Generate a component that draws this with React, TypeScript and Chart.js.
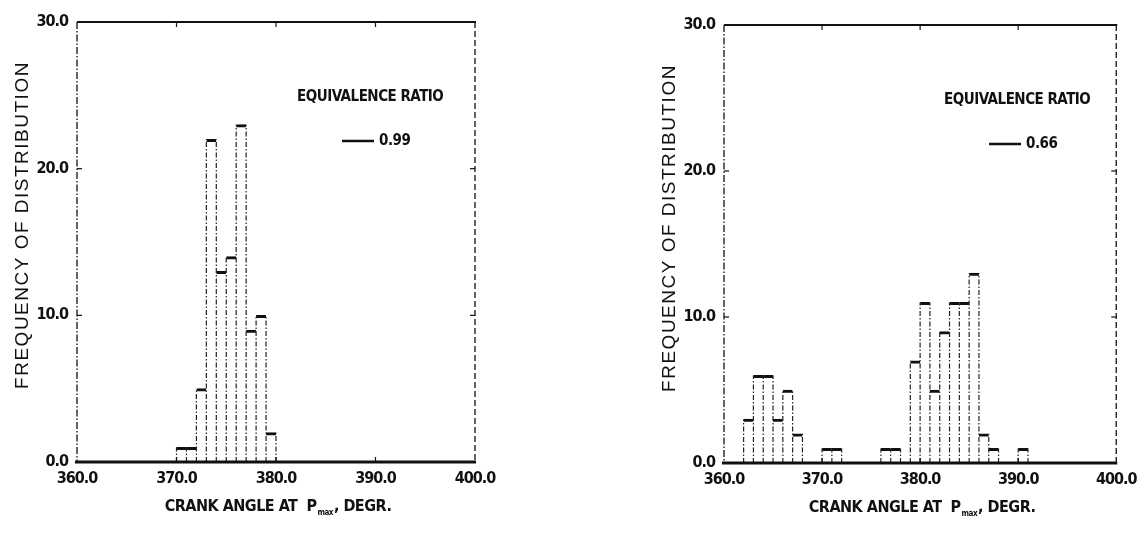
import React, { useEffect, useRef } from "react";
import { Chart, registerables } from "chart.js";
Chart.register(...registerables);

// ---- data ----
const xTickValues = [360, 370, 380, 390, 400];
const yTickValues = [0, 10, 20, 30];

const leftBins = [370, 371, 372, 373, 374, 375, 376, 377, 378, 379];
const leftFreq = [1, 1, 5, 22, 13, 14, 23, 9, 10, 2];
const leftRatio = "0.99";

const rightBins = [362, 363, 364, 365, 366, 367, 370, 371, 376, 377, 379, 380, 381, 382, 383, 384, 385, 386, 387, 390];
const rightFreq = [3, 6, 6, 3, 5, 2, 1, 1, 1, 1, 7, 11, 5, 9, 11, 11, 13, 2, 1, 1];
const rightRatio = "0.66";

const legendTitle = "EQUIVALENCE RATIO";
const yTitle = "FREQUENCY OF DISTRIBUTION";
const xTitleMain = "CRANK ANGLE AT  P";
const xTitleSub = "max";
const xTitleEnd = ", DEGR.";

const FONT_NARROW = '"Liberation Sans Narrow", "DejaVu Sans Condensed", "Liberation Sans", Arial, sans-serif';
const FONT_WIDE = '"Liberation Sans", Arial, sans-serif';
const INK = "#111";

type Geom = {
  w: number; h: number;
  left: number; right: number; top: number; bottom: number;
  yTitleX: number; yTitleY: number; xTitleY: number;
};

function edgePoints(bins: number[], freq: number[]) {
  const m = new Map<number, number>();
  bins.forEach((b, i) => {
    const f = freq[i];
    m.set(b, Math.max(m.get(b) ?? 0, f));
    m.set(b + 1, Math.max(m.get(b + 1) ?? 0, f));
  });
  const pts: any[] = [];
  [...m.keys()].sort((a, b) => a - b).forEach((e) => {
    pts.push({ x: e, y: 0 }, { x: e, y: m.get(e) }, { x: e, y: null });
  });
  return pts;
}

const tightText = {
  id: "tightText",
  beforeDraw(chart: any) {
    (chart.ctx as any).letterSpacing = "-1px";
  },
};

function makeDecor(g: Geom, ratio: string) {
  return {
    id: "decor",
    afterDraw(chart: any) {
      const { ctx, chartArea } = chart;
      const { left, right, top, bottom } = chartArea;
      const xs = chart.scales.x;
      const ys = chart.scales.y;
      const line = (x1: number, y1: number, x2: number, y2: number) => {
        ctx.beginPath(); ctx.moveTo(x1, y1); ctx.lineTo(x2, y2); ctx.stroke();
      };
      ctx.save();
      ctx.strokeStyle = INK;
      // top border
      ctx.lineWidth = 2;
      line(left, top, right + 1, top);
      // right border (dashed)
      ctx.lineWidth = 1.3;
      ctx.setLineDash([6, 3]);
      line(right, top, right, bottom);
      // left axis (dash-dot)
      ctx.setLineDash([7, 2, 1.5, 2]);
      line(left, top, left, bottom);
      // bottom axis thick
      ctx.setLineDash([]);
      ctx.lineWidth = 3;
      line(left - 2, bottom, right + 1, bottom);
      // inward ticks
      ctx.lineWidth = 1.2;
      xTickValues.slice(1, -1).forEach((v) => {
        const px = xs.getPixelForValue(v);
        line(px, bottom, px, bottom - 5);
        line(px, top, px, top + 5);
      });
      yTickValues.slice(1, -1).forEach((v) => {
        const py = ys.getPixelForValue(v);
        line(left, py, left + 5, py);
        line(right, py, right - 5, py);
      });

      ctx.fillStyle = INK;
      // y title
      ctx.save();
      ctx.translate(g.yTitleX, g.yTitleY);
      ctx.rotate(-Math.PI / 2);
      ctx.font = `19px ${FONT_WIDE}`;
      (ctx as any).letterSpacing = "1.5px";
      ctx.textAlign = "center";
      ctx.textBaseline = "middle";
      ctx.fillText(yTitle, 0, 0);
      ctx.restore();

      // x title with subscript
      (ctx as any).letterSpacing = "-0.5px";
      const big = `bold 16px ${FONT_NARROW}`;
      const small = `bold 8px ${FONT_NARROW}`;
      ctx.textBaseline = "alphabetic";
      ctx.textAlign = "left";
      ctx.font = big;
      const w1 = ctx.measureText(xTitleMain).width;
      const w3 = ctx.measureText(xTitleEnd).width;
      ctx.font = small;
      const w2 = ctx.measureText(xTitleSub).width;
      const total = w1 + w2 + 2 + w3;
      const cx = (left + right) / 2 + 2;
      let sx = cx - total / 2;
      const base = g.xTitleY + 6;
      ctx.font = big;
      ctx.fillText(xTitleMain, sx, base);
      sx += w1 + 1;
      ctx.font = small;
      ctx.fillText(xTitleSub, sx, base + 4);
      sx += w2 + 1;
      ctx.font = big;
      ctx.fillText(xTitleEnd, sx, base);

      // legend
      ctx.font = `bold 15px ${FONT_NARROW}`;
      ctx.textBaseline = "middle";
      ctx.fillText(legendTitle, left + 220, top + 75);
      ctx.lineWidth = 2.5;
      line(left + 265, top + 119, left + 297, top + 119);
      ctx.fillText(ratio, left + 302, top + 119);
      ctx.restore();
    },
  };
}

function Panel({ bins, freq, ratio, g, offsetX }: { bins: number[]; freq: number[]; ratio: string; g: Geom; offsetX: number }) {
  const ref = useRef<HTMLCanvasElement | null>(null);
  useEffect(() => {
    if (!ref.current) return;
    const barData = bins.map((b, i) => ({ x: b + 0.5, y: freq[i] }));
    const tickFont = { family: FONT_NARROW, size: 16, weight: "bold" as const };
    const chart = new Chart(ref.current, {
      type: "bar",
      data: {
        datasets: [
          {
            type: "line" as const,
            data: edgePoints(bins, freq),
            borderColor: "#222",
            borderWidth: 1.2,
            borderDash: [5, 2, 1.5, 2],
            pointRadius: 0,
            spanGaps: false,
            tension: 0,
            order: 1,
          } as any,
          {
            type: "bar" as const,
            data: barData,
            backgroundColor: "#ffffff",
            borderColor: INK,
            borderWidth: { top: 3, left: 0, right: 0, bottom: 0 },
            borderSkipped: false,
            barPercentage: 1,
            categoryPercentage: 1,
            order: 2,
          } as any,
        ],
      },
      options: {
        responsive: false,
        animation: false,
        events: [],
        layout: { padding: { left: 0, top: g.top, right: g.w - g.right, bottom: 0 } },
        plugins: { legend: { display: false }, tooltip: { enabled: false }, title: { display: false } },
        scales: {
          x: {
            type: "linear",
            min: 360,
            max: 400,
            offset: false,
            afterFit: (s: any) => { s.height = g.h - g.bottom; },
            afterBuildTicks: (s: any) => { s.ticks = xTickValues.map((v) => ({ value: v })); },
            grid: { display: false, drawTicks: false, offset: false },
            border: { display: false },
            ticks: {
              padding: 7,
              color: INK,
              font: tickFont,
              maxRotation: 0,
              autoSkip: false,
              callback: (v: any) => Number(v).toFixed(1),
            },
          },
          y: {
            type: "linear",
            min: 0,
            max: 30,
            afterFit: (s: any) => { s.width = g.left; },
            afterBuildTicks: (s: any) => { s.ticks = yTickValues.map((v) => ({ value: v })); },
            grid: { display: false, drawTicks: false },
            border: { display: false },
            ticks: {
              padding: 9,
              color: INK,
              font: tickFont,
              callback: (v: any) => Number(v).toFixed(1),
            },
          },
        },
      } as any,
      plugins: [tightText, makeDecor(g, ratio)],
    });
    return () => chart.destroy();
  }, []);
  return (
    <canvas
      ref={ref}
      width={g.w}
      height={g.h}
      style={{ position: "absolute", left: offsetX, top: 0, width: g.w, height: g.h }}
    />
  );
}

const leftGeom: Geom = { w: 573, h: 533, left: 77, right: 475, top: 22, bottom: 462, yTitleX: 23, yTitleY: 225, xTitleY: 505 };
const rightGeom: Geom = { w: 573, h: 533, left: 151, right: 550, top: 25, bottom: 463, yTitleX: 97, yTitleY: 228, xTitleY: 506 };

export default function App() {
  return (
    <div style={{ position: "fixed", left: 0, top: 0, width: 1146, height: 533, background: "#fff", overflow: "hidden" }}>
      <Panel bins={leftBins} freq={leftFreq} ratio={leftRatio} g={leftGeom} offsetX={0} />
      <Panel bins={rightBins} freq={rightFreq} ratio={rightRatio} g={rightGeom} offsetX={573} />
    </div>
  );
}
